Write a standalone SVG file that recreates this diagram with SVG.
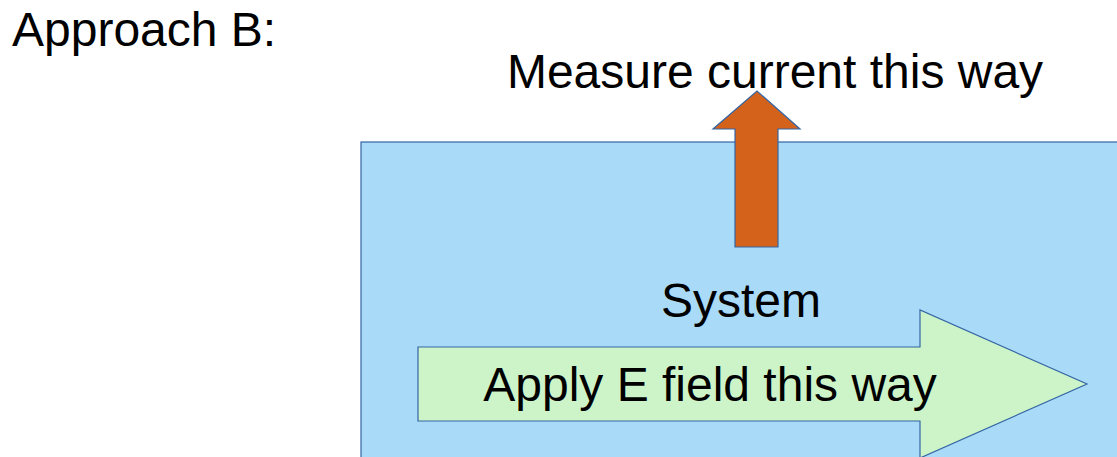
<svg xmlns="http://www.w3.org/2000/svg" width="1117" height="457" viewBox="0 0 1117 457">
  <style>
    .t { font-family: "Liberation Sans", Arial, sans-serif; font-size: 48px; fill: #000; }
    .shape { stroke: #3465a4; stroke-width: 1.2; }
  </style>
  <rect width="1117" height="457" fill="#fff"/>
  <text class="t" x="12" y="46">Approach B:</text>
  <g id="system">
    <rect class="shape" x="361" y="142" width="780" height="340" fill="#a9daf7"/>
    <text class="t" x="741" y="317" text-anchor="middle">System</text>
  </g>
  <g id="connectors">
    <g id="current-arrow">
      <polygon class="shape" fill="#d5621a" points="735,247 778,247 778,129 800,129 757,91 713,129 735,129"/>
      <text class="t" x="775" y="88" text-anchor="middle">Measure current this way</text>
    </g>
    <g id="field-arrow">
      <polygon class="shape" fill="#cdf4c8" points="418,347 920,347 920,310 1087,384 920,458 920,421 418,421"/>
      <text class="t" x="710" y="401" text-anchor="middle">Apply E field this way</text>
    </g>
  </g>
</svg>
